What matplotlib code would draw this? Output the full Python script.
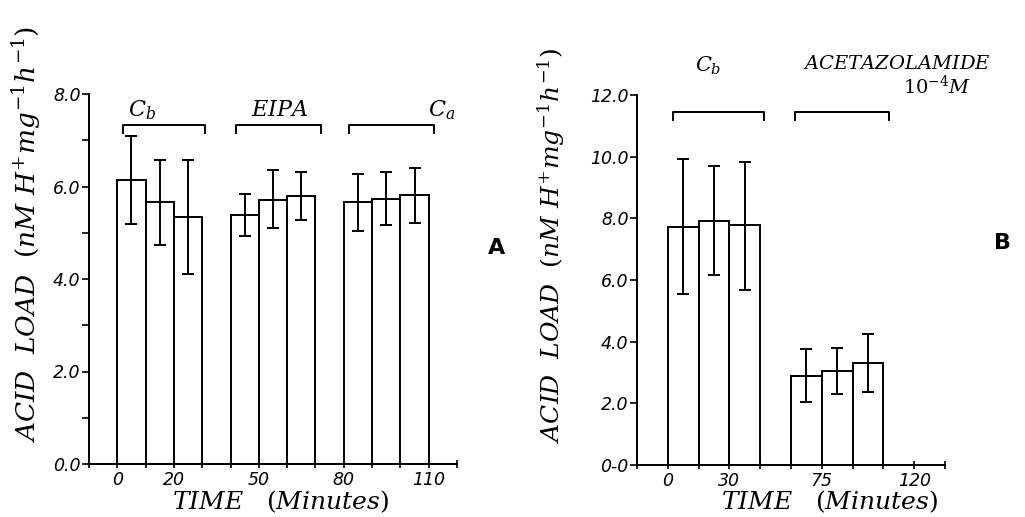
import matplotlib
matplotlib.use("Agg")
import matplotlib.pyplot as plt
import numpy as np

plt.rcParams['mathtext.fontset'] = 'dejavuserif'

# ---- panel A data (minutes, acid load) ----
a_left = [0, 10, 20, 40, 50, 60, 80, 90, 100]
a_vals = [6.15, 5.66, 5.35, 5.39, 5.71, 5.80, 5.66, 5.74, 5.81]
a_hi = [7.10, 6.57, 6.58, 5.84, 6.36, 6.32, 6.27, 6.31, 6.41]
a_lo = [5.19, 4.74, 4.11, 4.92, 5.10, 5.28, 5.03, 5.17, 5.21]
a_xticks = [0, 20, 50, 80, 110]
a_yticks = [0, 2, 4, 6, 8]
a_ylabels = ['0.0', '2.0', '4.0', '6.0', '8.0']
a_groups = [r'$C_b$', r'$EIPA$', r'$C_a$']
a_spans = [(2, 31), (42, 72), (82, 112)]

# ---- panel B data ----
b_left = [0, 15, 30, 60, 75, 90]
b_vals = [7.73, 7.91, 7.77, 2.90, 3.06, 3.30]
b_hi = [9.93, 9.71, 9.82, 3.76, 3.78, 4.25]
b_lo = [5.55, 6.15, 5.69, 2.05, 2.31, 2.38]
b_xticks = [0, 30, 75, 120]
b_yticks = [0, 2, 4, 6, 8, 10, 12]
b_ylabels = ['0-0', '2.0', '4.0', '6.0', '8.0', '10.0', '12.0']
b_spans = [(2.5, 47), (62, 107.5)]

ylab = r'$ACID\ \ LOAD\ \ (nM\ H^{+}mg^{-1}h^{-1})$'
xlab = r'$TIME\ \ \ (Minutes)$'
tickfont = dict(family='DejaVu Sans', style='oblique', size=12.5)

fig = plt.figure(figsize=(10.25, 5.17), dpi=100)
W, H = 1025.0, 517.0
axA = fig.add_axes([89 / W, 1 - 464 / H, 368 / W, 370 / H])
axB = fig.add_axes([637 / W, 1 - 465 / H, 308 / W, 370 / H])


def draw_panel(ax, left, vals, hi, lo, width, spans, bh, tick_step):
    vals = np.array(vals)
    ax.bar(left, vals, width=width, align='edge', color='white',
           edgecolor='black', linewidth=1.4, zorder=2)
    cx = np.array(left) + width / 2.0
    err = [vals - np.array(lo), np.array(hi) - vals]
    ax.errorbar(cx, vals, yerr=err, fmt='none', ecolor='black',
                elinewidth=1.4, capsize=4, capthick=1.4, zorder=3)
    for x0, x1 in spans:
        ax.plot([x0, x0, x1, x1], [bh[0] - bh[1], bh[0], bh[0], bh[0] - bh[1]],
                color='black', lw=1.4, clip_on=False)
    for s in ['top', 'right']:
        ax.spines[s].set_visible(False)
    ax.spines['left'].set_linewidth(1.4)
    ax.spines['bottom'].set_linewidth(1.4)
    ax.tick_params(axis='y', direction='out', length=5, width=1.2, pad=1)
    ax.tick_params(axis='x', which='minor', direction='inout', length=6, width=1.2)
    ax.tick_params(axis='x', which='major', direction='inout', length=6, width=1.2, pad=2)
    ax.set_xticks(np.arange(ax.get_xlim()[0], ax.get_xlim()[1] + 0.1, tick_step),
                  minor=True)


# panel A
axA.set_xlim(-10, 120)
axA.set_ylim(0, 8)
draw_panel(axA, a_left, a_vals, a_hi, a_lo, 10, a_spans, (7.32, 0.17), 10)
axA.set_yticks(a_yticks)
axA.set_yticklabels(a_ylabels, fontdict=tickfont)
axA.set_yticks([1, 3, 5, 7], minor=True)
axA.tick_params(axis='y', which='minor', direction='out', length=5, width=1.2)
axA.set_xticks(a_xticks)
axA.set_xticklabels([str(t) for t in a_xticks], fontdict=tickfont)
axA.text(8.6, 7.66, a_groups[0], fontsize=16, ha='center', va='center')
axA.text(57.5, 7.66, a_groups[1], fontsize=16, ha='center', va='center')
axA.text(114.7, 7.66, a_groups[2], fontsize=16, ha='center', va='center',
         clip_on=False)

# panel B
axB.set_xlim(-15, 135)
axB.set_ylim(0, 12)
draw_panel(axB, b_left, b_vals, b_hi, b_lo, 15, b_spans, (11.46, 0.28), 15)
axB.set_yticks(b_yticks)
axB.set_yticklabels(b_ylabels, fontdict=tickfont)
axB.set_xticks(b_xticks)
axB.set_xticklabels([str(t) for t in b_xticks], fontdict=tickfont)
axB.text(19.6, 12.94, r'$C_b$', fontsize=15, ha='center', va='center',
         clip_on=False)
axB.text(111.6, 13.02, r'$ACETAZOLAMIDE$', fontsize=14, ha='center',
         va='center', clip_on=False)
axB.text(131.0, 12.3, r'$10^{-4}M$', fontsize=14, ha='center', va='center',
         clip_on=False)

# axis titles
fig.text(27 / W, 1 - 234 / H, ylab, rotation=90, fontsize=19,
         ha='center', va='center')
fig.text(551 / W, 1 - 245 / H, ylab, rotation=90, fontsize=18,
         ha='center', va='center')
fig.text(281 / W, 1 - 502 / H, xlab, fontsize=18, ha='center', va='center')
fig.text(830 / W, 1 - 502 / H, xlab, fontsize=18, ha='center', va='center')

fig.text(497 / W, 1 - 248 / H, 'A', fontsize=16, fontweight='bold',
         ha='center', va='center')
fig.text(1003 / W, 1 - 243 / H, 'B', fontsize=16, fontweight='bold',
         ha='center', va='center')

fig.savefig('out.png', dpi=100)
